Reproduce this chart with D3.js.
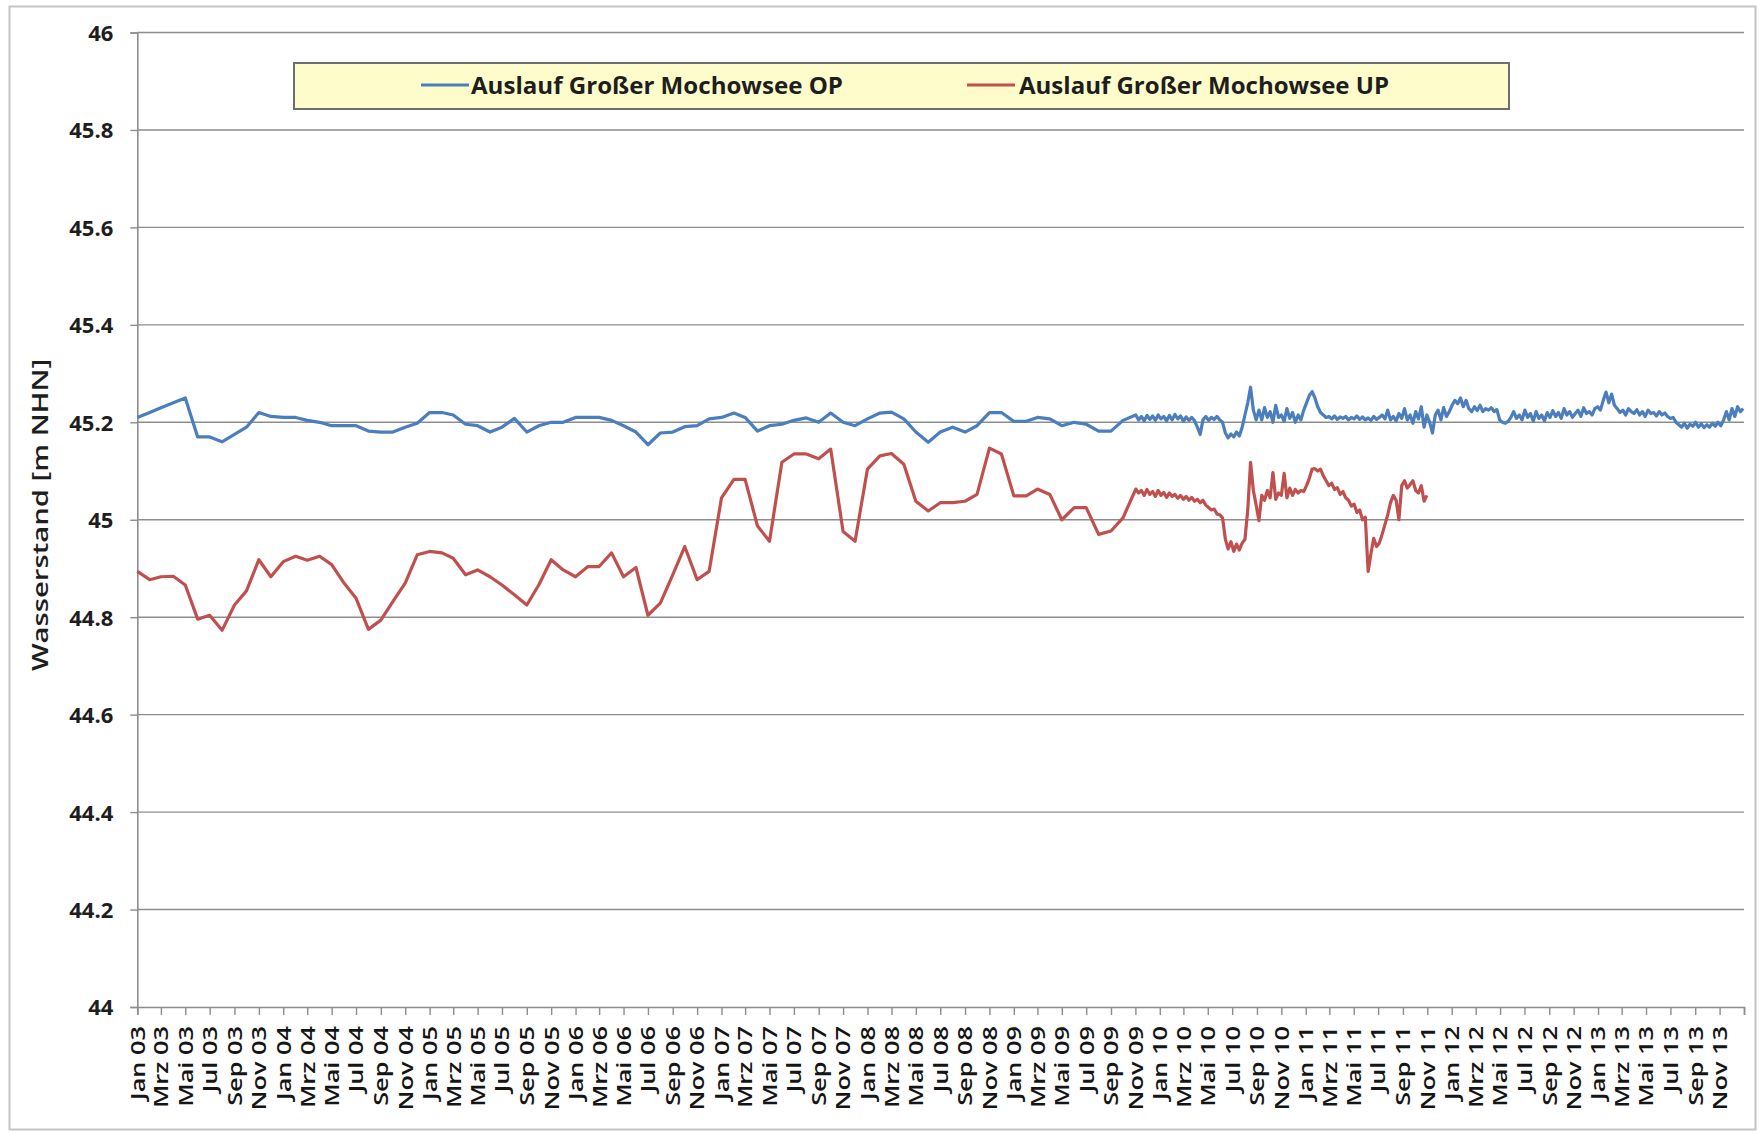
<!DOCTYPE html>
<html>
<head>
<meta charset="utf-8">
<script src="https://cdn.jsdelivr.net/npm/d3@7"></script>
<style>
  html, body { margin: 0; padding: 0; background: #ffffff; }
  svg { display: block; }
</style>
</head>
<body>
<svg id="chart" width="1759" height="1134"></svg>
<script>
// Water levels [m NHN] at the outlet of the Großer Mochowsee, upper (OP) and lower (UP) gauge.
const seriesNames = ["Auslauf Großer Mochowsee OP", "Auslauf Großer Mochowsee UP"];

// Monthly readings, one per month starting January 2003 (through October 2009)
const monthlyStart = "2003-01-01";
const opMonthly = [
  45.21, 45.22, 45.23, 45.24, 45.25, 45.17, 45.17, 45.16, 45.175, 45.19, 45.22, 45.212,
  45.21, 45.21, 45.204, 45.20, 45.193, 45.193, 45.193, 45.182, 45.18, 45.18, 45.19, 45.198,
  45.22, 45.22, 45.215, 45.196, 45.193, 45.18, 45.19, 45.208, 45.18, 45.193, 45.20, 45.20,
  45.21, 45.21, 45.21, 45.204, 45.193, 45.18, 45.154, 45.178, 45.18, 45.191, 45.193, 45.207,
  45.21, 45.219, 45.21, 45.182, 45.193, 45.196, 45.204, 45.209, 45.20, 45.219, 45.20, 45.193,
  45.207, 45.219, 45.221, 45.207, 45.18, 45.159, 45.18, 45.19, 45.18, 45.193, 45.22, 45.22,
  45.202, 45.202, 45.21, 45.207, 45.193, 45.20, 45.196, 45.182, 45.182, 45.204
];
const upMonthly = [
  44.894, 44.877, 44.883, 44.884, 44.866, 44.796, 44.804, 44.773, 44.825, 44.854, 44.918, 44.883,
  44.914, 44.925, 44.917, 44.925, 44.908, 44.87, 44.839, 44.775, 44.794, 44.832, 44.87, 44.928,
  44.935, 44.932, 44.921, 44.887, 44.897, 44.883, 44.866, 44.846, 44.825, 44.866, 44.918, 44.897,
  44.883, 44.904, 44.904, 44.932, 44.883, 44.902, 44.804, 44.829, 44.887, 44.945, 44.877, 44.894,
  45.045, 45.083, 45.083, 44.987, 44.956, 45.118, 45.135, 45.135, 45.125, 45.145, 44.976, 44.956,
  45.104, 45.131, 45.136, 45.114, 45.038, 45.018, 45.035, 45.035, 45.038, 45.052, 45.147, 45.135,
  45.049, 45.049, 45.063, 45.052, 45.00, 45.025, 45.025, 44.97, 44.977, 45.004
];

// Weekly readings from 2 November 2009 onwards
const weeklyStart = "2009-11-02";
const opWeekly = [
  45.215, 45.205, 45.212, 45.203, 45.214, 45.206, 45.213, 45.204, 45.215, 45.207,
  45.212, 45.203, 45.214, 45.205, 45.216, 45.207, 45.213, 45.202, 45.211, 45.204,
  45.21, 45.203, 45.19, 45.175,
  45.205, 45.212, 45.204, 45.21, 45.206, 45.212, 45.205, 45.20,
  45.178, 45.168, 45.176, 45.17, 45.18, 45.172,
  45.19, 45.215, 45.24, 45.272, 45.225, 45.205,
  45.225, 45.205, 45.23, 45.21, 45.222, 45.20, 45.235, 45.21, 45.215, 45.202,
  45.228, 45.208, 45.22, 45.20, 45.215, 45.205, 45.225, 45.24, 45.255,
  45.263, 45.25, 45.232, 45.22,
  45.215, 45.21, 45.212, 45.207, 45.213, 45.206, 45.211, 45.208, 45.212, 45.205, 45.21, 45.207, 45.213, 45.206,
  45.211, 45.205, 45.209, 45.204, 45.212, 45.206, 45.21, 45.215, 45.207, 45.225, 45.205, 45.212, 45.203, 45.218, 45.208,
  45.228, 45.205, 45.215, 45.198, 45.222, 45.207, 45.232, 45.19, 45.215, 45.20, 45.178,
  45.215, 45.225, 45.205, 45.23, 45.212, 45.222, 45.235,
  45.245, 45.238, 45.25, 45.232, 45.245,
  45.228, 45.222, 45.232, 45.224, 45.235, 45.222, 45.228, 45.225, 45.23, 45.222, 45.226,
  45.205, 45.20, 45.198, 45.202, 45.21,
  45.222, 45.208, 45.215, 45.205, 45.225, 45.21, 45.218, 45.202, 45.222, 45.208, 45.215, 45.203, 45.22, 45.21, 45.224, 45.212,
  45.22, 45.208, 45.228, 45.215, 45.222, 45.21, 45.218, 45.225, 45.212, 45.23, 45.218, 45.222, 45.215, 45.228, 45.232, 45.225,
  45.245, 45.262, 45.24, 45.258, 45.235, 45.228,
  45.22, 45.225, 45.215, 45.228, 45.222, 45.218, 45.226, 45.215, 45.222, 45.212, 45.225, 45.218, 45.22, 45.213, 45.222, 45.215, 45.219, 45.212, 45.208, 45.21, 45.20,
  45.195, 45.19, 45.198, 45.188, 45.196, 45.192, 45.20, 45.19, 45.197, 45.189, 45.195, 45.19, 45.198, 45.192, 45.20, 45.193, 45.205,
  45.222, 45.205, 45.228, 45.212, 45.232, 45.222, 45.228
];
const upWeekly = [
  45.063, 45.055, 45.06, 45.05, 45.062, 45.052, 45.058, 45.048, 45.06, 45.05, 45.056, 45.046, 45.055, 45.048, 45.052, 45.044, 45.05,
  45.042, 45.048, 45.04, 45.046, 45.038, 45.042, 45.035, 45.04,
  45.03, 45.025, 45.02, 45.022, 45.012, 45.01, 45.004,
  44.96, 44.94, 44.955, 44.935, 44.95, 44.938, 44.952, 44.96,
  45.02, 45.118, 45.06, 45.03, 44.998,
  45.05, 45.04, 45.06, 45.045, 45.097, 45.042, 45.055, 45.05, 45.095, 45.045, 45.065, 45.05, 45.062, 45.055, 45.06, 45.058, 45.07, 45.085,
  45.104, 45.105, 45.10, 45.104, 45.09,
  45.08, 45.07, 45.075, 45.062, 45.066, 45.052, 45.058, 45.045, 45.04, 45.028, 45.032, 45.015, 45.02,
  45.00, 45.005,
  44.894, 44.93, 44.962, 44.945, 44.952, 44.97, 44.99, 45.01, 45.035, 45.05, 45.04, 45.00,
  45.07, 45.08, 45.065, 45.072, 45.08, 45.06, 45.055, 45.07, 45.038, 45.05
];

// Axis labelling
const tickMonthNames = ["Jan", "Mrz", "Mai", "Jul", "Sep", "Nov"];
const yTicks = [44, 44.2, 44.4, 44.6, 44.8, 45, 45.2, 45.4, 45.6, 45.8, 46];
const yTitle = "Wasserstand [m NHN]";
const axisStart = "2003-01-01";
const axisEnd = "2014-01-01";

// ---------------------------------------------------------------------------
const colors = ["#4a7ebd", "#c0504d"];
const W = 1759, H = 1134;
const plot = { left: 137.3, right: 1744, top: 32.5, bottom: 1007 };

const svg = d3.select("#chart");
svg.append("rect").attr("width", W).attr("height", H).attr("fill", "#ffffff");
// outer frame
svg.append("rect")
  .attr("x", 9.5).attr("y", 6.5).attr("width", 1746).attr("height", 1123)
  .attr("fill", "none").attr("stroke", "#c4c4c4").attr("stroke-width", 2);

const parse = d3.utcParse("%Y-%m-%d");
const x = d3.scaleUtc().domain([parse(axisStart), parse(axisEnd)]).range([plot.left, plot.right]);
const y = d3.scaleLinear().domain([44, 46]).range([plot.bottom, plot.top]);

function buildSeries(monthly, weekly) {
  const m0 = parse(monthlyStart), w0 = parse(weeklyStart);
  const pts = monthly.map((v, i) => ({ date: d3.utcMonth.offset(m0, i), value: v }));
  weekly.forEach((v, i) => pts.push({ date: d3.utcDay.offset(w0, 7 * i), value: v }));
  return pts;
}
const series = [buildSeries(opMonthly, opWeekly), buildSeries(upMonthly, upWeekly)];

// horizontal gridlines
svg.append("g").selectAll("line")
  .data(yTicks.filter(v => v > 44))
  .join("line")
  .attr("x1", plot.left).attr("x2", plot.right)
  .attr("y1", d => y(d)).attr("y2", d => y(d))
  .attr("stroke", "#8d8d8d").attr("stroke-width", 1.4);

// y axis
const yAxis = svg.append("g")
  .attr("transform", `translate(${plot.left},0)`)
  .call(d3.axisLeft(y).tickValues(yTicks).tickSize(7).tickPadding(17)
    .tickFormat(d => String(Math.round(d * 10) / 10)));
yAxis.select(".domain").attr("stroke", "#8d8d8d").attr("stroke-width", 1.6);
yAxis.selectAll(".tick line").attr("stroke", "#8d8d8d").attr("stroke-width", 1.4);
yAxis.selectAll(".tick text")
  .attr("dy", "0.36em")
  .attr("fill", "#1e1e1e")
  .style("font-family", "'Open Sans', 'Noto Sans', sans-serif")
  .style("font-weight", "700")
  .style("font-size", "22px");

// x axis: a tick every second month, labelled with German month abbreviations
const xTickDates = d3.utcMonth.every(2).range(parse(axisStart), d3.utcDay.offset(parse(axisEnd), 1));
const fmtYear = d3.utcFormat("%y");
const xAxis = svg.append("g")
  .attr("transform", `translate(0,${plot.bottom})`)
  .call(d3.axisBottom(x).tickValues(xTickDates).tickSize(8)
    .tickFormat(d => d >= parse(axisEnd) ? "" : tickMonthNames[d.getUTCMonth() / 2] + " " + fmtYear(d)));
xAxis.select(".domain").attr("stroke", "#8d8d8d").attr("stroke-width", 1.6);
xAxis.selectAll(".tick line").attr("stroke", "#8d8d8d").attr("stroke-width", 1.4);
const xLabels = xAxis.selectAll(".tick text")
  .attr("x", 0).attr("y", 0).attr("dy", "0.36em")
  .attr("text-anchor", "end")
  .attr("fill", "#151515")
  .style("font-family", "'Open Sans', 'Noto Sans', sans-serif")
  .style("font-weight", "600")
  .style("font-size", "19px");
// labels are drawn vertically and stretched along their reading direction
const refLen = xLabels.filter(d => +d === +parse(axisStart)).node().getComputedTextLength();
const stretch = 74 / refLen;
xLabels.attr("transform", `translate(0,19) rotate(-90) scale(${stretch},1)`);

// y axis title
svg.append("text")
  .attr("transform", "translate(40,515) rotate(-90)")
  .attr("text-anchor", "middle")
  .attr("dy", "0.36em")
  .attr("textLength", 312)
  .attr("lengthAdjust", "spacingAndGlyphs")
  .attr("fill", "#1e1e1e")
  .style("font-family", "'Open Sans', 'Noto Sans', sans-serif")
  .style("font-weight", "600")
  .style("font-size", "22px")
  .text(yTitle);

// data lines
const line = d3.line().x(d => x(d.date)).y(d => y(d.value));
svg.append("g").selectAll("path")
  .data(series)
  .join("path")
  .attr("d", line)
  .attr("fill", "none")
  .attr("stroke", (d, i) => colors[i])
  .attr("stroke-width", 3.2)
  .attr("stroke-linejoin", "round");

// legend
const legend = svg.append("g");
legend.append("rect")
  .attr("x", 294).attr("y", 63).attr("width", 1215).attr("height", 46)
  .attr("fill", "#fffccb").attr("stroke", "#6e6e6e").attr("stroke-width", 2);
const legendItems = [
  { sx: 421, tx: 471, len: 372 },
  { sx: 967, tx: 1019, len: 370 }
];
legendItems.forEach((it, i) => {
  legend.append("line")
    .attr("x1", it.sx).attr("x2", it.sx + 48).attr("y1", 85).attr("y2", 85)
    .attr("stroke", colors[i]).attr("stroke-width", 3);
  legend.append("text")
    .attr("x", it.tx).attr("y", 94)
    .attr("textLength", it.len).attr("lengthAdjust", "spacingAndGlyphs")
    .attr("fill", "#1e1e1e")
    .style("font-family", "'Open Sans', 'Noto Sans', sans-serif")
    .style("font-weight", "700")
    .style("font-size", "23px")
    .text(seriesNames[i]);
});
</script>
</body>
</html>
